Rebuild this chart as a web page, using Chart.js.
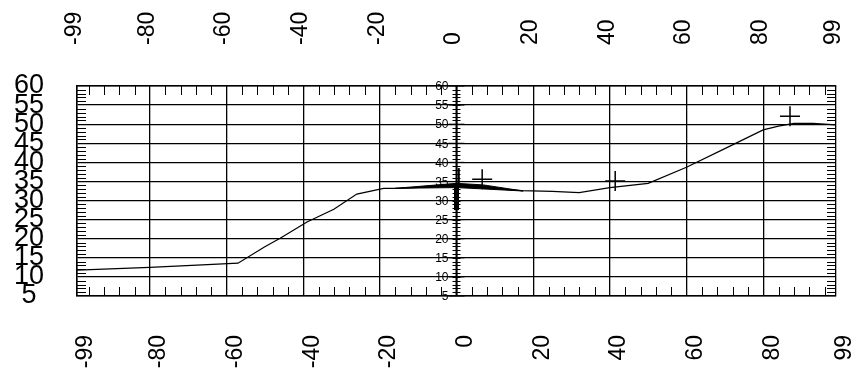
<!DOCTYPE html>
<html>
<head>
<meta charset="utf-8">
<script src="https://cdn.jsdelivr.net/npm/chart.js@4.4.0/dist/chart.umd.min.js"></script>
<style>
    body { margin: 0; background: #fff; }
</style>
</head>
<body>
<canvas id="profile-chart" width="851" height="378"></canvas>
<script>
// tick labels
var xTicks = [-99, -80, -60, -40, -20, 0, 20, 40, 60, 80, 99];
var yTicks = [5, 10, 15, 20, 25, 30, 35, 40, 45, 50, 55, 60];

// profile line
var lineX = [-99, -80, -65, -57, -50, -46, -39, -32, -26, -19, -15, 0, 17, 25, 32, 40, 50, 60, 70, 80, 84, 88, 93, 99];
var lineY = [11.8, 12.5, 13.2, 13.6, 17.9, 20.1, 24.4, 27.7, 31.7, 33.2, 33.2, 33.9, 32.6, 32.4, 32.1, 33.4, 34.5, 38.7, 43.6, 48.5, 49.5, 50.2, 50.2, 49.8];

// dark wedge around x = 0
var wedgeX = [-16, 0, 7, 17.4, 0, -16];
var wedgeY = [33.2, 34.5, 34.1, 32.5, 33.4, 33.2];

// vertical stroke at x = 0
var stemX = [0, 0];
var stemY = [27.5, 34.5];
var stemTopX = [0.6, 0.6];
var stemTopY = [34.5, 38.5];

// cross markers
var plusX = [6.7, 41.4, 87];
var plusY = [35.6, 35.1, 52.1];

var FONT = "'Liberation Sans', Arial, sans-serif";

function points(xs, ys) {
    return xs.map(function (x, i) {
        return {x: x, y: ys[i]};
    });
}

function setTicks(list) {
    return function (scale) {
        scale.ticks = list.map(function (v) {
            return {value: v};
        });
    };
}

// minor ticks on the frame and the labelled axis through x = 0
var frameTicks = {
    id: 'frameTicks',
    beforeDatasetsDraw: function (chart) {
        var ctx = chart.ctx;
        var a = chart.chartArea;
        var x = chart.scales.x;
        var y = chart.scales.y;

        function seg(x1, y1, x2, y2) {
            ctx.beginPath();
            ctx.moveTo(x1, y1);
            ctx.lineTo(x2, y2);
            ctx.stroke();
        }

        ctx.save();
        ctx.strokeStyle = '#000';
        ctx.lineWidth = 1;

        for (var v = -96; v <= 96; v += 4) {
            if (v % 20 === 0) continue;
            var px = Math.round(x.getPixelForValue(v)) + 0.5;
            seg(px, a.top, px, a.top + 9);
            seg(px, a.bottom, px, a.bottom - 9);
        }

        var x0 = x.getPixelForValue(0);
        for (var w = 6; w < 60; w++) {
            var py = Math.round(y.getPixelForValue(w)) + 0.5;
            if (w % 5 !== 0) {
                seg(a.left, py, a.left + 9, py);
                seg(a.right, py, a.right - 9, py);
            }
            seg(x0 - 4, py, x0 + 4, py);
        }

        ctx.lineWidth = 2;
        seg(x0, a.top, x0, a.bottom);

        ctx.fillStyle = '#000';
        ctx.font = '12px ' + FONT;
        ctx.textAlign = 'right';
        ctx.textBaseline = 'middle';
        y.ticks.forEach(function (t) {
            var ty = y.getPixelForValue(t.value);
            ctx.lineWidth = 1;
            seg(x0 - 8, ty, x0 + 8, ty);
            ctx.fillText(String(t.value), x0 - 8, ty + 1);
        });
        ctx.restore();
    }
};

var xAxis = function (position, pad, shift) {
    return {
        type: 'linear',
        position: position,
        min: -99,
        max: 99,
        afterBuildTicks: setTicks(xTicks),
        afterFit: function (scale) {
            scale.height = position === 'top' ? 86 : 82;
            scale.paddingLeft = 0;
            scale.paddingRight = 0;
        },
        ticks: {
            autoSkip: false,
            minRotation: 90,
            maxRotation: 90,
            padding: pad,
            labelOffset: shift,
            color: '#000',
            font: {family: FONT, size: 23},
            callback: function (value) {
                return String(value);
            }
        },
        grid: {
            display: position === 'bottom',
            color: '#000',
            lineWidth: 1.3,
            drawTicks: false
        },
        border: {color: '#000', width: 1.5}
    };
};

new Chart(document.getElementById('profile-chart'), {
    type: 'scatter',
    data: {
        datasets: [{
            data: points(lineX, lineY),
            showLine: true,
            borderColor: '#000',
            borderWidth: 1.2,
            pointRadius: 0,
            tension: 0
        }, {
            data: points(wedgeX, wedgeY),
            showLine: true,
            fill: 'shape',
            backgroundColor: '#000',
            borderColor: '#000',
            borderWidth: 1,
            pointRadius: 0
        }, {
            data: points(stemX, stemY),
            showLine: true,
            borderColor: '#000',
            borderWidth: 5,
            pointRadius: 0
        }, {
            data: points(stemTopX, stemTopY),
            showLine: true,
            borderColor: '#000',
            borderWidth: 2,
            pointRadius: 0
        }, {
            data: points(plusX, plusY),
            showLine: false,
            pointStyle: 'cross',
            pointRadius: 10,
            borderColor: '#000',
            borderWidth: 1.5
        }]
    },
    options: {
        responsive: false,
        animation: false,
        layout: {padding: {left: 0, right: 15, top: 0, bottom: 0}},
        plugins: {
            legend: {display: false},
            tooltip: {enabled: false}
        },
        scales: {
            x: xAxis('bottom', 39, 9),
            x2: xAxis('top', 41, 25),
            y: {
                min: 5,
                max: 60,
                afterBuildTicks: setTicks(yTicks),
                afterFit: function (scale) {
                    scale.width = 77;
                },
                ticks: {
                    autoSkip: false,
                    crossAlign: 'center',
                    padding: 33,
                    color: '#000',
                    font: {family: FONT, size: 27}
                },
                grid: {color: '#000', lineWidth: 1.3, drawTicks: false},
                border: {color: '#000', width: 1.5}
            }
        }
    },
    plugins: [frameTicks]
});
</script>
</body>
</html>
